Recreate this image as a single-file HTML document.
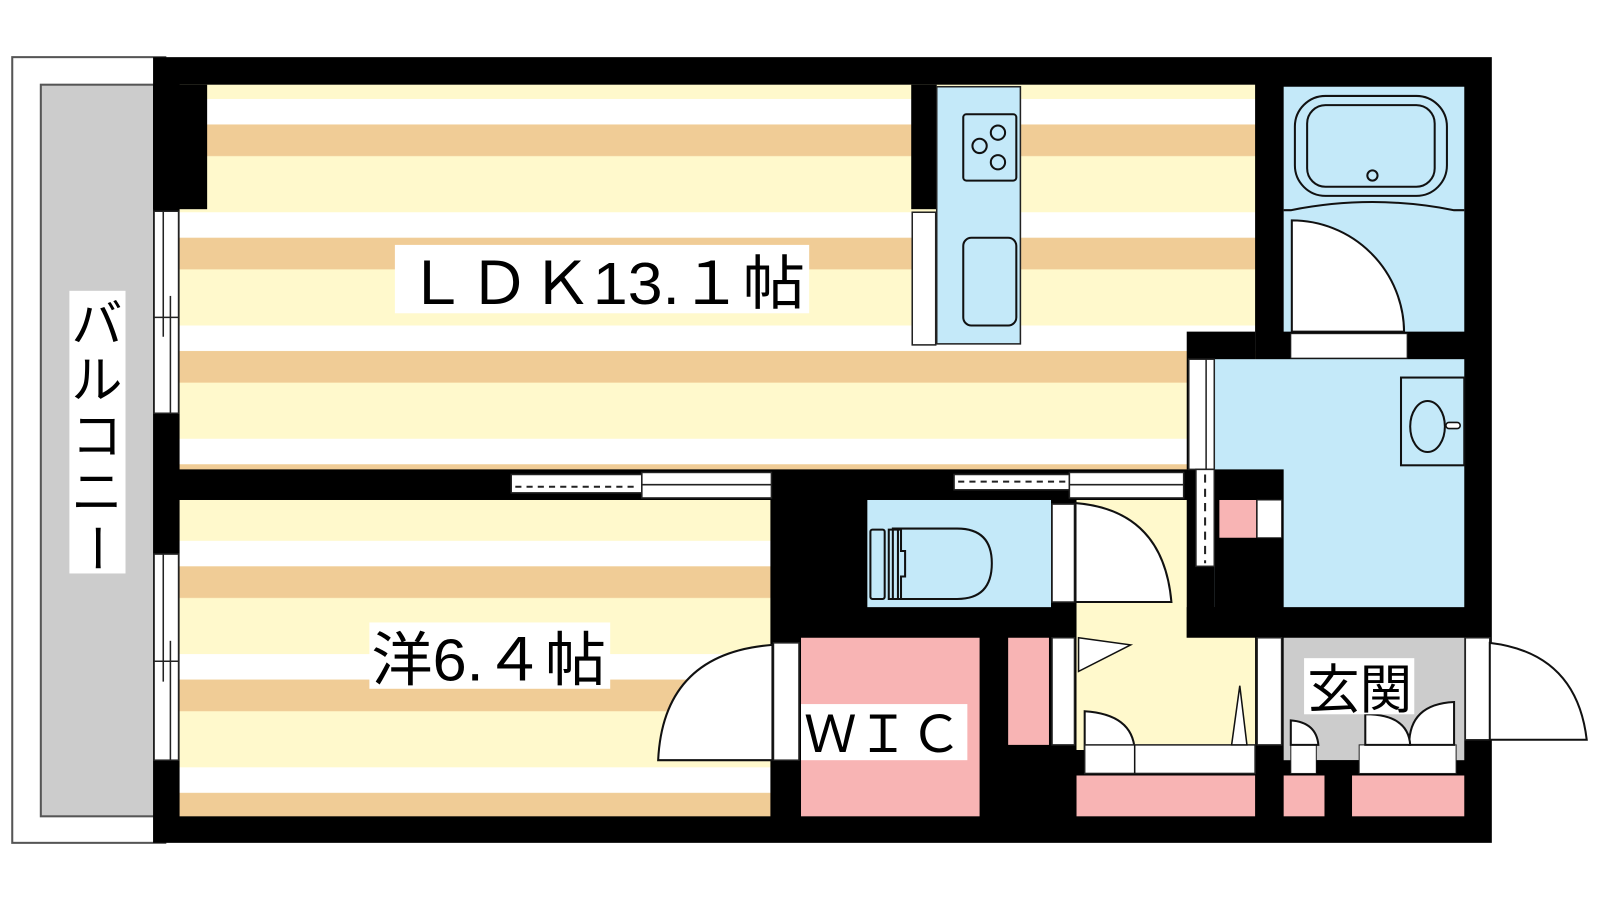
<!DOCTYPE html>
<html><head><meta charset="utf-8"><style>
html,body{margin:0;padding:0;background:#fff;}
svg{display:block;}
text{font-family:"Liberation Sans","Noto Sans CJK JP",sans-serif;fill:#000;}
</style></head><body>
<svg width="1600" height="900" viewBox="0 0 1600 900" xmlns="http://www.w3.org/2000/svg">
<defs>
<pattern id="fl" patternUnits="userSpaceOnUse" x="0" y="97" width="1600" height="111">
<rect width="1600" height="111" fill="#fff9cc"/>
<rect y="0" width="1600" height="25" fill="#fff"/>
<rect y="25" width="1600" height="31" fill="#f0cc96"/>
</pattern>
<pattern id="fl2" patternUnits="userSpaceOnUse" x="0" y="86" width="1600" height="111">
<rect width="1600" height="111" fill="#fff9cc"/>
<rect y="0" width="1600" height="25" fill="#fff"/>
<rect y="25" width="1600" height="31" fill="#f0cc96"/>
</pattern>
</defs>
<g transform="scale(1.0204)">
<rect x="12" y="56" width="150" height="770" fill="#fff" stroke="#555" stroke-width="2"/>
<rect x="40" y="83" width="112" height="717" fill="#ccc" stroke="#555" stroke-width="2"/>
<rect x="68" y="285" width="55" height="277" fill="#fff"/>
<text x="95" y="335" font-size="50" text-anchor="middle">バ</text>
<text x="95" y="390" font-size="50" text-anchor="middle">ル</text>
<text x="95" y="445" font-size="50" text-anchor="middle">コ</text>
<text x="95" y="500" font-size="50" text-anchor="middle">ニ</text>
<text x="95" y="555" font-size="50" text-anchor="middle" transform="rotate(90 95 537)">ー</text>
<rect x="150" y="56" width="1312" height="770" fill="#000"/>
<rect x="176" y="83" width="1054" height="377" fill="url(#fl)"/>
<rect x="150" y="83" width="53" height="122" fill="#000"/>
<rect x="1163" y="325" width="67" height="135" fill="#000"/>
<rect x="176" y="490" width="579" height="310" fill="url(#fl2)"/>
<g fill="#fff" stroke="#222" stroke-width="1.5">
<rect x="151" y="207" width="24" height="198"/>
<rect x="151" y="543" width="24" height="202"/>
</g>
<g stroke="#222" stroke-width="1.5">
<line x1="160" y1="207" x2="160" y2="330"/><line x1="167" y1="290" x2="167" y2="405"/><line x1="151" y1="311" x2="175" y2="311"/>
<line x1="160" y1="543" x2="160" y2="668"/><line x1="167" y1="628" x2="167" y2="745"/><line x1="151" y1="648" x2="175" y2="648"/>
</g>
<rect x="893" y="83" width="25" height="122" fill="#000"/>
<rect x="894" y="208" width="23" height="130" fill="#fff" stroke="#222" stroke-width="1.5"/>
<rect x="918" y="85" width="82" height="252" fill="#c4e9f9" stroke="#222" stroke-width="1.5"/>
<rect x="944" y="112" width="52" height="65" rx="3" fill="none" stroke="#111" stroke-width="2"/>
<circle cx="960" cy="143" r="7" fill="none" stroke="#111" stroke-width="2"/>
<circle cx="978" cy="130" r="7" fill="none" stroke="#111" stroke-width="2"/>
<circle cx="978" cy="159" r="7" fill="none" stroke="#111" stroke-width="2"/>
<rect x="944" y="233" width="52" height="86" rx="8" fill="none" stroke="#111" stroke-width="2"/>
<rect x="1258" y="85" width="177" height="240" fill="#c4e9f9"/>
<rect x="1249" y="94" width="149" height="98" rx="30" fill="none" stroke="#111" stroke-width="2" transform="translate(20,0)"/>
<rect x="1281" y="103" width="125" height="80" rx="18" fill="none" stroke="#111" stroke-width="2"/>
<circle cx="1345" cy="172" r="5" fill="none" stroke="#111" stroke-width="2"/>
<path d="M1258 206 L1265 206 Q1345 190 1425 206 L1435 206" fill="none" stroke="#111" stroke-width="2"/>
<path d="M1266 325 L1266 216 A110 110 0 0 1 1376 325 Z" fill="#fff" stroke="#111" stroke-width="2"/>
<rect x="1265" y="327" width="114" height="24" fill="#fff" stroke="#222" stroke-width="1"/>
<rect x="1190" y="352" width="245" height="243" fill="#c4e9f9"/>
<rect x="1190" y="460" width="68" height="140" fill="#000"/>
<rect x="1195" y="490" width="36" height="37" fill="#f8b4b4"/>
<rect x="1232" y="490" width="24" height="37" fill="#fff" stroke="#222" stroke-width="1"/>
<rect x="1373" y="370" width="62" height="86" fill="none" stroke="#111" stroke-width="2"/>
<ellipse cx="1399" cy="418" rx="17" ry="25" fill="none" stroke="#111" stroke-width="2"/>
<rect x="1417" y="414" width="14" height="6" rx="3" fill="#fff" stroke="#111" stroke-width="1.5"/>
<rect x="1165" y="352" width="25" height="108" fill="#fff" stroke="#222" stroke-width="1.5"/>
<line x1="1182" y1="352" x2="1182" y2="460" stroke="#222" stroke-width="1.5"/>
<rect x="1172" y="460" width="18" height="95" fill="#fff" stroke="#222" stroke-width="1.5"/>
<line x1="1181" y1="465" x2="1181" y2="552" stroke="#222" stroke-width="2" stroke-dasharray="8,6"/>
<rect x="501" y="465" width="128" height="18" fill="#fff" stroke="#222" stroke-width="1.5"/>
<line x1="505" y1="477" x2="625" y2="477" stroke="#222" stroke-width="2" stroke-dasharray="6,5"/>
<rect x="629" y="463" width="127" height="25" fill="#fff" stroke="#222" stroke-width="1.5"/>
<line x1="629" y1="475" x2="756" y2="475" stroke="#222" stroke-width="1.5"/>
<rect x="935" y="465" width="113" height="15" fill="#fff" stroke="#222" stroke-width="1.5"/>
<line x1="939" y1="472" x2="1045" y2="472" stroke="#222" stroke-width="2" stroke-dasharray="6,5"/>
<rect x="1048" y="463" width="112" height="25" fill="#fff" stroke="#222" stroke-width="1.5"/>
<line x1="1048" y1="475" x2="1160" y2="475" stroke="#222" stroke-width="1.5"/>
<rect x="850" y="490" width="180" height="105" fill="#c4e9f9"/>
<rect x="1055" y="490" width="108" height="245" fill="#fff9cc"/>
<rect x="1163" y="595" width="67" height="30" fill="#000"/>
<g fill="none" stroke="#111" stroke-width="2">
<rect x="853" y="519" width="14" height="68" rx="2"/>
<path d="M871 519 L871 587 L883 587 L883 565 L887 565 L887 540 L883 540 L883 519 Z"/>
<path d="M875 518 L938 518 Q972 518 972 552 Q972 587 938 587 L875 587 Z"/>
<line x1="880" y1="518" x2="880" y2="587"/>
</g>
<rect x="1030" y="490" width="24" height="4" fill="#000"/>
<rect x="1031" y="494" width="22" height="96" fill="#fff" stroke="#222" stroke-width="1.5"/>
<path d="M1054 493 Q1140 500 1148 590 L1054 590 Z" fill="#fff" stroke="#111" stroke-width="2"/>
<rect x="1055" y="625" width="175" height="110" fill="#fff9cc"/>
<rect x="785" y="625" width="175" height="175" fill="#f8b4b4"/>
<rect x="988" y="625" width="40" height="105" fill="#f8b4b4"/>
<rect x="1031" y="625" width="22" height="105" fill="#fff" stroke="#222" stroke-width="1.5"/>
<path d="M1057 625 L1057 658 L1108 632 Z" fill="#fff" stroke="#111" stroke-width="1.5"/>
<path d="M1063 735 L1063 697 Q1110 700 1112 735 Z" fill="#fff" stroke="#111" stroke-width="2"/>
<rect x="1063" y="730" width="167" height="28" fill="#fff" stroke="#222" stroke-width="1.5"/>
<line x1="1112" y1="730" x2="1112" y2="758" stroke="#111" stroke-width="1.5"/>
<path d="M1207 730 L1215 672 L1222 730 Z" fill="#fff" stroke="#111" stroke-width="1.5"/>
<rect x="1055" y="760" width="175" height="40" fill="#f8b4b4"/>
<rect x="1258" y="625" width="177" height="120" fill="#ccc"/>
<rect x="1232" y="625" width="24" height="105" fill="#fff" stroke="#222" stroke-width="1.5"/>
<rect x="1265" y="730" width="25" height="28" fill="#fff" stroke="#222" stroke-width="1"/>
<rect x="1290" y="745" width="42" height="15" fill="#000"/>
<rect x="1332" y="730" width="95" height="28" fill="#fff" stroke="#222" stroke-width="1"/>
<path d="M1265 730 L1265 706 Q1290 708 1292 730 Z" fill="#fff" stroke="#111" stroke-width="2"/>
<path d="M1381 730 Q1381 690 1425 688 L1425 730 Z" fill="#fff" stroke="#111" stroke-width="2"/>
<path d="M1382 730 Q1380 700 1338 700 L1338 730 Z" fill="#fff" stroke="#111" stroke-width="2"/>
<line x1="1338" y1="700" x2="1338" y2="730" stroke="#111" stroke-width="1"/>
<rect x="1258" y="760" width="40" height="40" fill="#f8b4b4"/>
<rect x="1325" y="760" width="110" height="40" fill="#f8b4b4"/>
<rect x="1436" y="625" width="24" height="100" fill="#fff" stroke="#222" stroke-width="1.5"/>
<path d="M1460 630 Q1545 640 1555 725 L1460 725 Z" fill="#fff" stroke="#111" stroke-width="2"/>
<rect x="758" y="630" width="25" height="115" fill="#fff" stroke="#222" stroke-width="1.5"/>
<path d="M757 632 Q650 640 645 745 L757 745 Z" fill="#fff" stroke="#111" stroke-width="2"/>
<rect x="387" y="240" width="406" height="67" fill="#fff"/>
<text x="397" y="298" font-size="58" textLength="392" lengthAdjust="spacingAndGlyphs">ＬＤＫ13.１帖</text>
<rect x="362" y="610" width="236" height="65" fill="#fff"/>
<text x="364" y="667" font-size="58" textLength="230" lengthAdjust="spacingAndGlyphs">洋6.４帖</text>
<rect x="785" y="690" width="163" height="55" fill="#fff"/>
<text x="788" y="737" font-size="50" textLength="155" lengthAdjust="spacingAndGlyphs">ＷＩＣ</text>
<rect x="1278" y="645" width="108" height="55" fill="#fff"/>
<text x="1281" y="694" font-size="52" textLength="103" lengthAdjust="spacingAndGlyphs">玄関</text>
</g>
</svg>
</body></html>
